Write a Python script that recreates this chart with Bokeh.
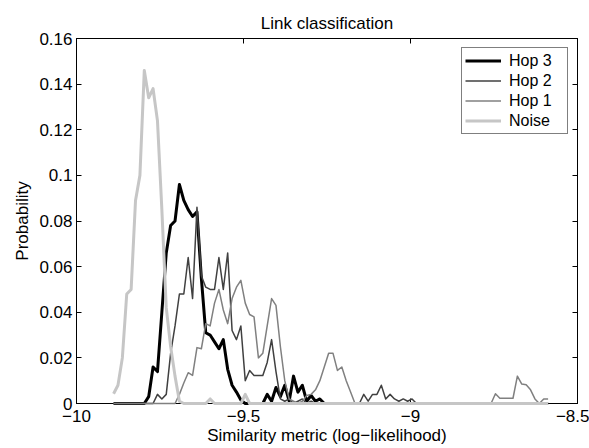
import numpy as np
from bokeh.plotting import figure
from bokeh.models import Range1d, LinearAxis, FixedTicker, Legend, LegendItem
from bokeh.embed import file_html
from bokeh.resources import INLINE

FONT = "Liberation Sans"

# histogram bin centres (regular grid of 100 bins)
bin_first = -9.889
bin_last = -8.588
n_bins = 100
x = np.linspace(bin_first, bin_last, n_bins)

hop3 = [0, 0, 0, 0, 0, 0, 0, 0, 0.003, 0.016,
        0.014, 0.040, 0.066, 0.078, 0.080, 0.096, 0.089, 0.085, 0.082, 0.084,
        0.055, 0.031, 0.030, 0.027, 0.024, 0.028, 0.015, 0.008, 0.005, 0.0015,
        0, 0, 0, 0, 0, 0.004, 0.001, 0.007, 0.003, 0.008,
        0.001, 0.012, 0.005, 0.008, 0.001, 0.0035, 0.001, 0.002, 0, 0,
        0, 0, 0, 0, 0, 0, 0, 0, 0, 0,
        0, 0, 0, 0, 0, 0, 0, 0, 0, 0,
        0, 0, 0, 0, 0, 0, 0, 0, 0, 0,
        0, 0, 0, 0, 0, 0, 0, 0, 0, 0,
        0, 0, 0, 0, 0, 0, 0, 0, 0, 0]

hop2 = [0, 0, 0, 0, 0, 0, 0, 0, 0, 0,
        0.004, 0.002, 0.004, 0.022, 0.034, 0.048, 0.048, 0.064, 0.046, 0.086,
        0.056, 0.051, 0.050, 0.050, 0.064, 0.050, 0.066, 0.032, 0.028, 0.034,
        0.010, 0.0145, 0.0123, 0.0123, 0.0123, 0.018, 0.028, 0.014, 0.002, 0.001,
        0.002, 0, 0.001, 0.002, 0, 0.001, 0, 0, 0, 0,
        0, 0, 0, 0, 0, 0, 0, 0.004, 0.001, 0.004,
        0.004, 0.008, 0.002, 0.004, 0.002, 0.001, 0.002, 0.001, 0.002, 0,
        0, 0, 0, 0, 0, 0, 0, 0, 0, 0,
        0, 0, 0, 0, 0, 0, 0, 0, 0, 0,
        0, 0, 0, 0, 0, 0, 0, 0, 0, 0]

hop1 = [0, 0, 0, 0, 0, 0, 0, 0, 0, 0,
        0, 0, 0, 0, 0, 0.004, 0.009, 0.0135, 0.0123, 0.0245,
        0.024, 0.035, 0.034, 0.044, 0.050, 0.041, 0.035, 0.046, 0.051, 0.054,
        0.044, 0.039, 0.038, 0.020, 0.022, 0.034, 0.046, 0.043, 0.025, 0.010,
        0.002, 0.001, 0, 0.001, 0.0035, 0.004, 0.006, 0.010, 0.016, 0.022,
        0.022, 0.0145, 0.016, 0.010, 0.005, 0, 0, 0, 0, 0,
        0, 0, 0, 0, 0, 0, 0, 0, 0, 0,
        0, 0, 0, 0, 0, 0, 0, 0, 0, 0,
        0, 0, 0, 0, 0, 0, 0, 0.0043, 0.0023, 0.0023,
        0.0023, 0.0023, 0.012, 0.0085, 0.0082, 0.006, 0.002, 0, 0.002, 0.002]

noise = [0.0043, 0.008, 0.020, 0.048, 0.050, 0.089, 0.100, 0.146, 0.134, 0.138,
         0.124, 0.085, 0.042, 0.025, 0.012, 0.001, 0, 0, 0, 0,
         0, 0, 0.002, 0, 0, 0, 0, 0, 0, 0,
         0.004, 0, 0, 0, 0, 0, 0, 0, 0, 0,
         0, 0, 0, 0, 0, 0, 0, 0, 0, 0,
         0, 0, 0, 0, 0, 0, 0, 0, 0, 0,
         0, 0, 0, 0, 0, 0, 0, 0, 0, 0,
         0, 0, 0, 0, 0, 0, 0, 0, 0, 0,
         0, 0, 0, 0, 0, 0, 0, 0, 0, 0,
         0, 0, 0, 0, 0, 0, 0, 0, 0, 0]

series_names = ["Hop 3", "Hop 2", "Hop 1", "Noise"]
series_colors = ["#000000", "#404040", "#808080", "#c6c6c6"]
series_widths = [3, 1.5, 1.5, 3]

x_ticks = [-10, -9.5, -9, -8.5]
x_tick_labels = ["\u221210", "\u22129.5", "\u22129", "\u22128.5"]
y_ticks = [0, 0.02, 0.04, 0.06, 0.08, 0.1, 0.12, 0.14, 0.16]
y_tick_labels = ["0", "0.02", "0.04", "0.06", "0.08", "0.1", "0.12", "0.14", "0.16"]

p = figure(width=589, height=448, output_backend="svg", toolbar_location=None,
           x_range=Range1d(-10, -8.5), y_range=Range1d(0, 0.16),
           min_border_left=76, min_border_right=12, min_border_top=38,
           min_border_bottom=45, title="Link classification")

p.background_fill_color = "white"
p.border_fill_color = "white"
p.outline_line_color = "black"
p.xgrid.visible = False
p.ygrid.visible = False

p.title.text_font = FONT
p.title.text_font_size = "17px"
p.title.text_font_style = "normal"
p.title.align = "center"
p.title.text_color = "black"
p.title.standoff = 11


def style_axis(ax, ticks, labels, standoff=4, label_standoff=4, show_labels=True):
    ax.ticker = FixedTicker(ticks=ticks)
    ax.major_tick_in = 5
    ax.major_tick_out = 0
    ax.minor_tick_line_color = None
    ax.axis_line_color = "black"
    ax.major_tick_line_color = "black"
    if show_labels:
        ax.major_label_overrides = {t: l for t, l in zip(ticks, labels)}
        ax.major_label_text_font = FONT
        ax.major_label_text_font_size = "17px"
        ax.major_label_text_color = "black"
        ax.major_label_standoff = standoff
        ax.axis_label_text_font = FONT
        ax.axis_label_text_font_size = "17px"
        ax.axis_label_text_font_style = "normal"
        ax.axis_label_text_color = "black"
        ax.axis_label_standoff = label_standoff
    else:
        ax.major_label_overrides = {t: "" for t in ticks}
        ax.major_label_text_font_size = "1px"
        ax.major_label_text_color = None
        ax.major_label_standoff = 0


style_axis(p.xaxis[0], x_ticks, x_tick_labels, standoff=6, label_standoff=1)
style_axis(p.yaxis[0], y_ticks, y_tick_labels, standoff=4, label_standoff=4)
p.xaxis[0].axis_label = "Similarity metric (log\u2212likelihood)"
p.yaxis[0].axis_label = "Probability"

top_axis = LinearAxis()
style_axis(top_axis, x_ticks, x_tick_labels, show_labels=False)
p.add_layout(top_axis, "above")
right_axis = LinearAxis()
style_axis(right_axis, y_ticks, y_tick_labels, show_labels=False)
p.add_layout(right_axis, "right")

all_series = [hop3, hop2, hop1, noise]
items = []
for name, ys, col, w in zip(series_names, all_series, series_colors, series_widths):
    r = p.line(x, ys, line_color=col, line_width=w, line_join="round")
    r.level = "overlay"
    items.append(LegendItem(label=name, renderers=[r]))

legend = Legend(items=items, location="top_right")
legend.label_text_font = FONT
legend.label_text_font_size = "16px"
legend.label_text_color = "black"
legend.border_line_color = "black"
legend.border_line_width = 1
legend.background_fill_color = "white"
legend.background_fill_alpha = 1
legend.glyph_width = 36
legend.glyph_height = 19
legend.label_height = 19
legend.label_width = 55
legend.spacing = 1
legend.padding = 3
legend.margin = 9
legend.label_standoff = 8
p.add_layout(legend)

open("out.html", "w").write(file_html(p, INLINE))
